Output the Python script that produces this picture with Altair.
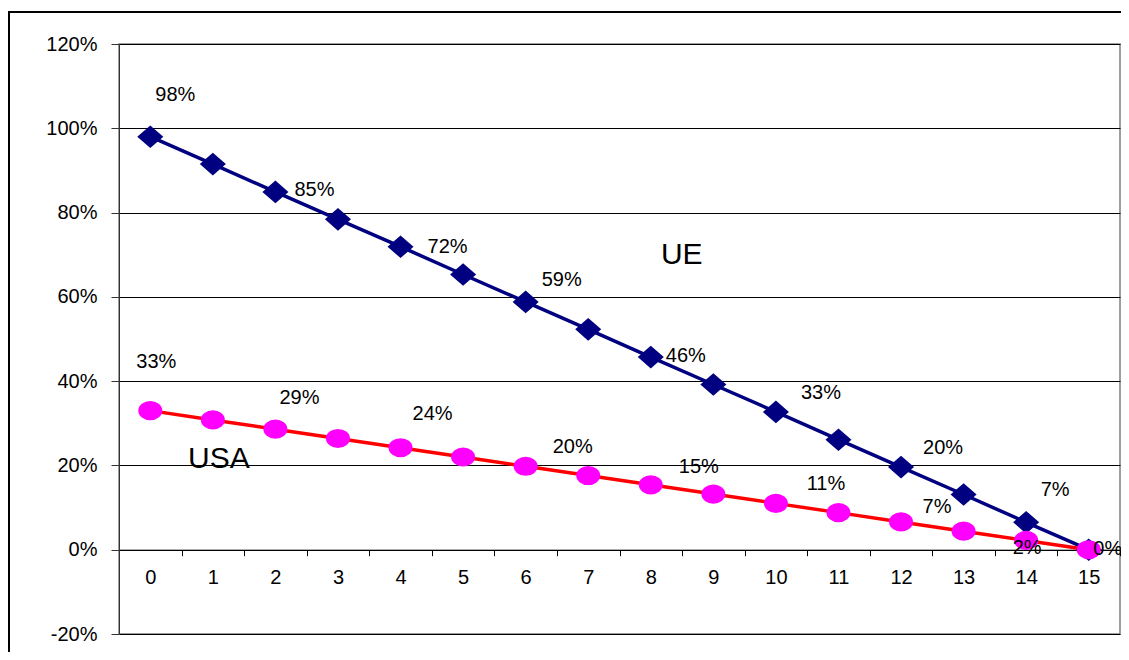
import altair as alt
import pandas as pd

# ---- data ----
years = ["0", "1", "2", "3", "4", "5", "6", "7", "8", "9", "10", "11", "12", "13", "14", "15"]
ue_values = [98, 91.5, 84.9, 78.4, 71.9, 65.3, 58.8, 52.3, 45.7, 39.2, 32.7, 26.1, 19.6, 13.1, 6.5, 0]
usa_values = [33, 30.8, 28.6, 26.4, 24.2, 22, 19.8, 17.6, 15.4, 13.2, 11, 8.8, 6.6, 4.4, 2.2, 0]
ue_labeled = ["0", "2", "4", "6", "8", "10", "12", "14"]
usa_labeled = ["0", "2", "4", "6", "8", "10", "12", "14", "15"]
y_ticks = [-20, 0, 20, 40, 60, 80, 100, 120]
annotations = [{"series_name": "UE", "year": "8", "value": 70},
               {"series_name": "USA", "year": "1", "value": 21.5}]

# ---- styling: label offsets (pixels, relative to each point) ----
UE_OFF = {"0": (25, -42), "2": (39, -2), "4": (47, 0), "6": (36, -22), "8": (35, -1),
          "10": (45, -19), "12": (42, -19), "14": (29, -32)}
USA_OFF = {"0": (6, -49), "2": (24, -31), "4": (32, -34), "6": (47, -19), "8": (48, -18),
           "10": (50, -19), "12": (36, -15), "14": (1, 8), "15": (19, -1)}
ANN_DX = {"UE": 31, "USA": 6}

FONT = "Liberation Sans"

rows = []
for s, vals, lab in (("UE", ue_values, ue_labeled), ("USA", usa_values, usa_labeled)):
    for y, v in zip(years, vals):
        rows.append({"series": s, "year": y, "value": v,
                     "lbl": f"{int(v + 0.5)}%" if y in lab else ""})
df = pd.DataFrame(rows)

x_enc = alt.X(
    "year:O",
    scale=alt.Scale(type="band", domain=years, paddingInner=0, paddingOuter=0),
    axis=alt.Axis(title=None, labelAngle=0, tickBand="extent", offset=-84.3,
                  domainColor="black", tickColor="black", tickSize=6,
                  labelFontSize=20, labelPadding=12, grid=False),
)
y_enc = alt.Y(
    "value:Q",
    scale=alt.Scale(domain=[-20, 120], nice=False, zero=False),
    axis=alt.Axis(title=None, values=y_ticks, labelExpr="datum.value + '%'",
                  grid=True, gridColor="black", gridWidth=1,
                  domainColor="#333333", tickColor="#333333", tickSize=8,
                  labelPadding=14, labelFontSize=20),
)

base = alt.Chart(df)

frame = alt.Chart(alt.Data(values=[{"a": 1}])).mark_rect(
    fill=None, stroke="black", strokeWidth=2
).encode(x=alt.value(-110), x2=alt.value(1100), y=alt.value(-32), y2=alt.value(800))

ue_line = base.transform_filter(alt.datum.series == "UE").mark_line(
    color="#000080", strokeWidth=3.5).encode(x=x_enc, y=y_enc)
ue_pts = base.transform_filter(alt.datum.series == "UE").mark_point(
    shape="M-1,0L0,-0.87L1,0L0,0.87Z", size=529, filled=True, fill="#000080",
    stroke="#000080", opacity=1).encode(x=x_enc, y=y_enc)
usa_line = base.transform_filter(alt.datum.series == "USA").mark_line(
    color="#FF0000", strokeWidth=3.5).encode(x=x_enc, y=y_enc)
usa_pts = base.transform_filter(alt.datum.series == "USA").mark_point(
    shape="M-1,0A1,0.78,0,1,1,1,0A1,0.78,0,1,1,-1,0Z", size=484, filled=True,
    fill="#FF00FF", stroke="#FF00FF", opacity=1).encode(x=x_enc, y=y_enc)

layers = [frame, ue_line, ue_pts, usa_line, usa_pts]

for s, offs in (("UE", UE_OFF), ("USA", USA_OFF)):
    for yr, (dx, dy) in offs.items():
        layers.append(
            base.transform_filter((alt.datum.series == s) & (alt.datum.year == yr))
            .mark_text(dx=dx, dy=dy, fontSize=20, font=FONT, color="black",
                       align="center", baseline="middle")
            .encode(x=x_enc, y=y_enc, text="lbl:N")
        )

for a in annotations:
    layers.append(
        alt.Chart(alt.Data(values=[a])).mark_text(
            dx=ANN_DX[a["series_name"]], fontSize=30, font=FONT, color="black",
            align="center", baseline="middle")
        .encode(x=x_enc, y=y_enc, text="series_name:N")
    )

chart = alt.layer(*layers).properties(
    width=1001, height=590,
    padding={"left": 111, "top": 36, "right": 1, "bottom": 18},
    autosize=alt.AutoSizeParams(type="none"),
).configure_view(stroke="#808080", strokeWidth=1.5).configure_axis(
    labelFont=FONT, labelColor="black"
)

chart.save("out.html", embed_options={"renderer": "svg", "actions": False})
